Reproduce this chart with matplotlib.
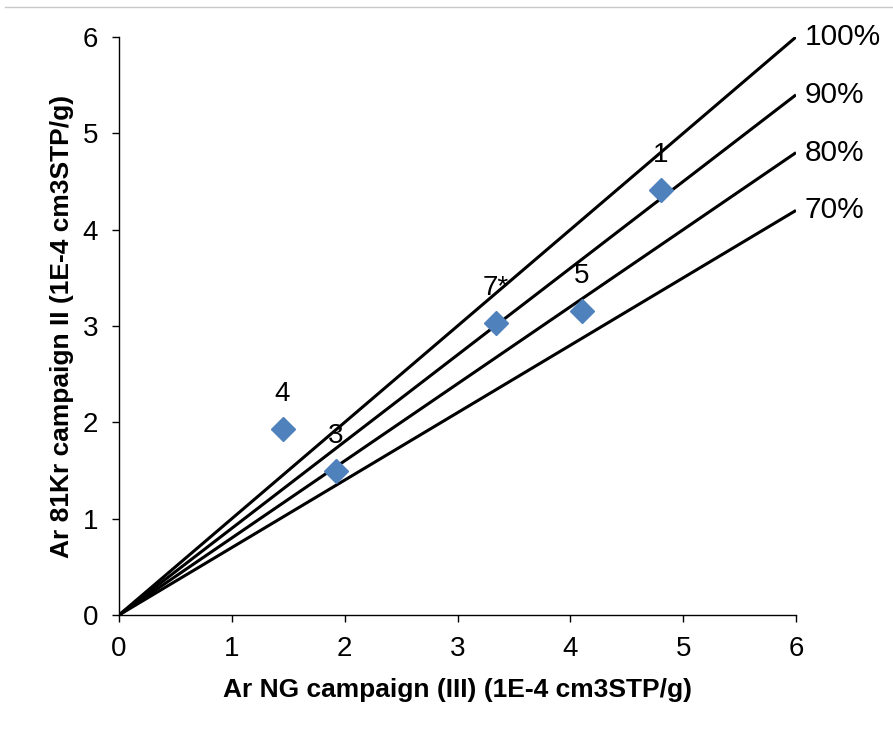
import matplotlib
matplotlib.use("Agg")
import matplotlib.pyplot as plt
from matplotlib.lines import Line2D

plt.rcParams['font.family'] = ['Liberation Sans', 'DejaVu Sans']

# data
pt_labels = ["1", "7*", "5", "4", "3"]
x_vals = [4.80, 3.34, 4.10, 1.45, 1.92]
y_vals = [4.41, 3.03, 3.16, 1.93, 1.50]
ratios = [1.0, 0.9, 0.8, 0.7]
ratio_labels = ["100%", "90%", "80%", "70%"]
ticks = [0, 1, 2, 3, 4, 5, 6]

fig = plt.figure(figsize=(8.93, 7.29), dpi=100)
ax = fig.add_axes([119/893, 1-615/729, (796-119)/893, (615-37)/729])

for r, lab in zip(ratios, ratio_labels):
    ax.plot([0, 6], [0, 6*r], color='black', lw=2.2, solid_capstyle='butt', zorder=2)
    ax.annotate(lab, xy=(6, 6*r), xytext=(6, 0), textcoords='offset points',
                ha='left', va='center', fontsize=21.5, annotation_clip=False)

ax.plot(x_vals, y_vals, linestyle='none', marker='D', markersize=12,
        color='#4F81BD', markeredgecolor='#4F81BD', zorder=3)
for lab, x, y in zip(pt_labels, x_vals, y_vals):
    ax.annotate(lab, xy=(x, y), xytext=(0, 25), textcoords='offset points',
                ha='center', va='center', fontsize=20, zorder=4)

ax.set_xlim(0, 6)
ax.set_ylim(0, 6)
ax.set_xticks(ticks)
ax.set_yticks(ticks)
ax.tick_params(direction='out', length=5, width=1, labelsize=20)
ax.tick_params(axis='x', pad=10)
ax.tick_params(axis='y', pad=10)
for s in ['top', 'right']:
    ax.spines[s].set_visible(False)
for s in ['left', 'bottom']:
    ax.spines[s].set_linewidth(1)

ax.set_xlabel("Ar NG campaign (III) (1E-4 cm3STP/g)", fontsize=19, fontweight='bold', labelpad=12)
ax.set_ylabel("Ar 81Kr campaign II (1E-4 cm3STP/g)", fontsize=19, fontweight='bold', labelpad=6)

fig.add_artist(Line2D([5/893, 1], [1-7/729, 1-7/729], color='#c8c8c8', lw=1))

fig.savefig("out.png", dpi=100)
